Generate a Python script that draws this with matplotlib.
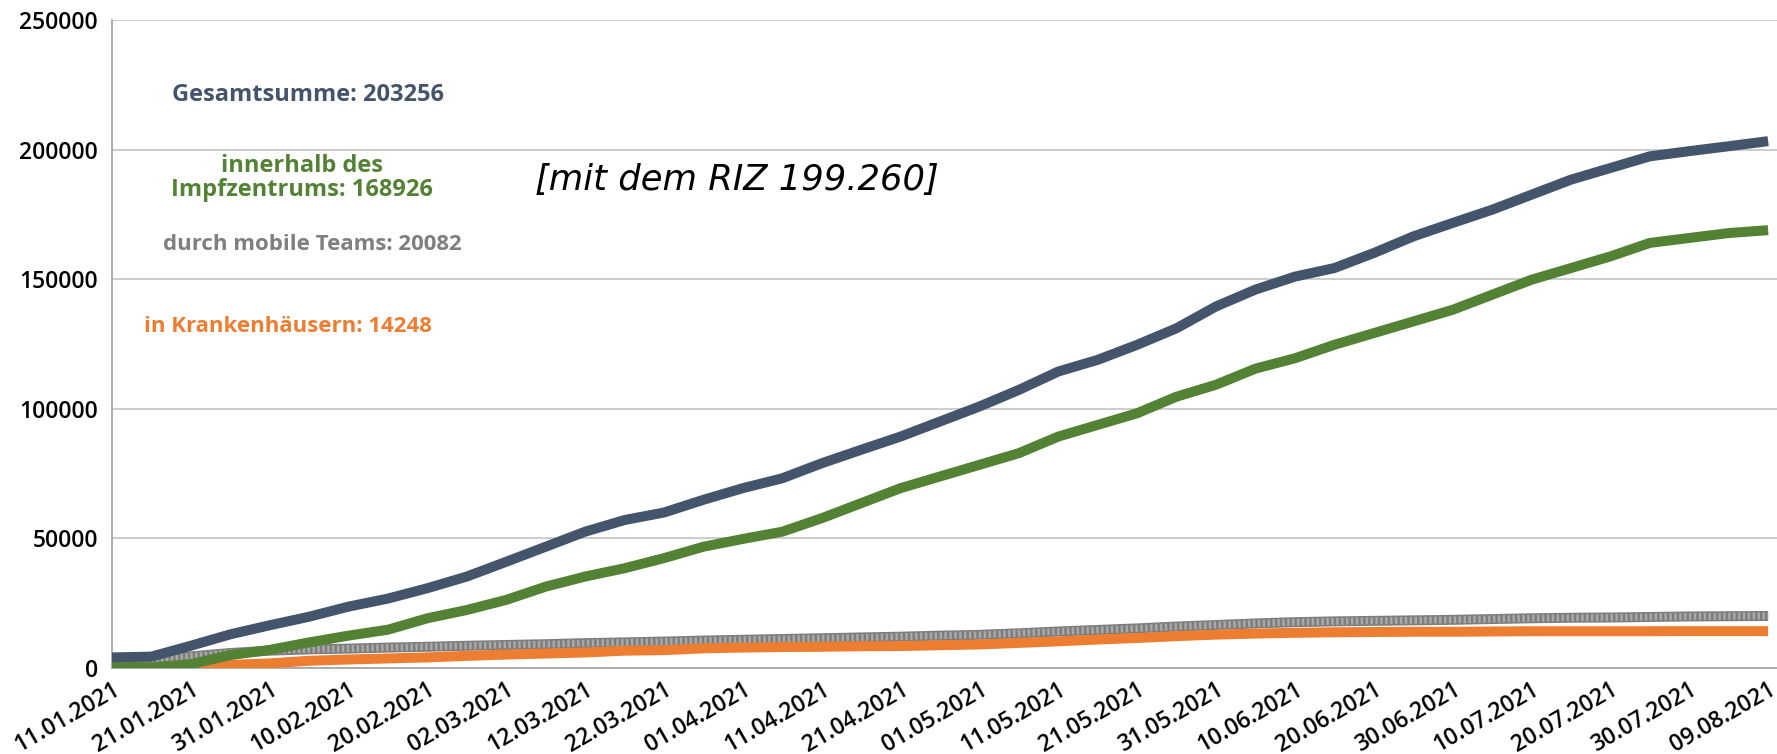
import numpy as np
import pandas as pd
import matplotlib
matplotlib.use("Agg")
import matplotlib.pyplot as plt
import matplotlib.dates as mdates

# readings every 5 days, 11.01.2021 .. 09.08.2021
dates = pd.date_range("2021-01-11", periods=43, freq="5D")

gesamt = [4100, 4400, 8600, 13000, 16500, 19800, 23700, 26800, 30800, 35300,
          41000, 46800, 52600, 57100, 60000, 64900, 69400, 73200, 79000, 84200,
          89300, 95100, 100900, 107300, 114400, 118900, 124700, 131100, 139500,
          146000, 151000, 154300, 160100, 166500, 171700, 176800, 182600,
          188400, 192900, 197400, 199400, 201300, 203256]

impfzentrum = [300, 300, 1500, 5000, 7000, 9900, 12500, 14800, 19200, 22400,
               26300, 31400, 35300, 38500, 42400, 46800, 49800, 52600, 57800,
               63600, 69400, 73900, 78400, 82900, 89300, 93800, 98300, 104700,
               109300, 115500, 119500, 124700, 129200, 133700, 138200, 144000,
               149800, 154300, 158800, 164000, 165900, 167800, 168926]

mobil = [3300, 3300, 4500, 5800, 6700, 7200, 7500, 7900, 8200, 8600, 8900, 9200,
         9600, 9900, 10200, 10600, 10900, 11200, 11500, 11800, 12100, 12500,
         12800, 13400, 14100, 14700, 15300, 16000, 16600, 17200, 17700, 18000,
         18200, 18400, 18600, 18900, 19200, 19400, 19500, 19700, 19900, 20000,
         20082]

krankenhaus = [0, 0, 200, 1200, 1800, 2800, 3300, 3700, 4100, 4700, 5200, 5600,
               6000, 6700, 6900, 7600, 7900, 8100, 8200, 8400, 8500, 8800, 9100,
               9700, 10300, 11000, 11600, 12300, 12900, 13300, 13600, 13800,
               13900, 14000, 14000, 14100, 14200, 14200, 14200, 14200, 14248,
               14248, 14248]

c_blue = "#44546A"
c_green = "#548235"
c_gray = "#7D7D7D"
c_orange = "#ED7D31"

plt.rcParams["font.family"] = ["Open Sans", "DejaVu Sans"]

fig = plt.figure(figsize=(17.77, 7.54), dpi=100)
ax = fig.add_axes([0.063, 0.114, 0.937, 0.8595])

lw = 7.2
# gray series has a fine checker texture in the original
ax.plot(dates, mobil, color=c_gray, lw=lw, solid_capstyle="butt", zorder=2)
ax.plot(dates, mobil, color="#A9A9A9", lw=lw * 0.7, ls=(0, (0.35, 0.35)),
        zorder=2.1)
ax.plot(dates, krankenhaus, color=c_orange, lw=lw, solid_capstyle="butt", zorder=3)
ax.plot(dates, impfzentrum, color=c_green, lw=lw, solid_capstyle="butt", zorder=4)
ax.plot(dates, gesamt, color=c_blue, lw=lw, solid_capstyle="butt", zorder=5)

ax.set_ylim(0, 250000)
ax.set_yticks(np.arange(0, 250001, 50000))
ax.set_xlim(pd.Timestamp("2021-01-11"), pd.Timestamp("2021-08-10 03:00"))
ax.set_xticks(pd.date_range("2021-01-11", "2021-08-09", freq="10D"))
ax.xaxis.set_major_formatter(mdates.DateFormatter("%d.%m.%Y"))

ax.grid(axis="y", color="#C8C8C8", lw=1.3)
ax.set_axisbelow(True)
for s in ["top", "right"]:
    ax.spines[s].set_visible(False)
ax.spines["left"].set_color("#A6A6A6")
ax.spines["bottom"].set_color("#A6A6A6")
ax.spines["left"].set_linewidth(1.3)
ax.spines["bottom"].set_linewidth(1.3)
ax.tick_params(length=0, pad=7)
ax.tick_params(axis="y", labelsize=16.5, pad=10)
ax.tick_params(axis="x", labelsize=16.5)
for lbl in ax.get_yticklabels():
    lbl.set_fontweight("semibold")
for lbl in ax.get_xticklabels():
    lbl.set_fontweight("semibold")
    lbl.set_rotation(30)
    lbl.set_ha("right")
    lbl.set_rotation_mode("anchor")

# labels in figure pixel coordinates of the original
def put(x, y, s, **kw):
    fig.text(x / 1777, 1 - y / 754, s, ha="center", va="center", **kw)

put(308, 95, "Gesamtsumme: 203256", color=c_blue, fontsize=17,
    fontweight="bold")
put(302, 178, "innerhalb des\nImpfzentrums: 168926", color=c_green,
    fontsize=17, fontweight="bold", linespacing=0.95)
put(312, 245, "durch mobile Teams: 20082", color="#7F7F7F", fontsize=16,
    fontweight="bold")
put(288, 327, "in Krankenhäusern: 14248", color=c_orange, fontsize=16,
    fontweight="bold")
put(737, 180, "[mit dem RIZ 199.260]", color="black", fontsize=25.5,
    style="italic", family="DejaVu Sans")

fig.savefig("out.png", dpi=100)
